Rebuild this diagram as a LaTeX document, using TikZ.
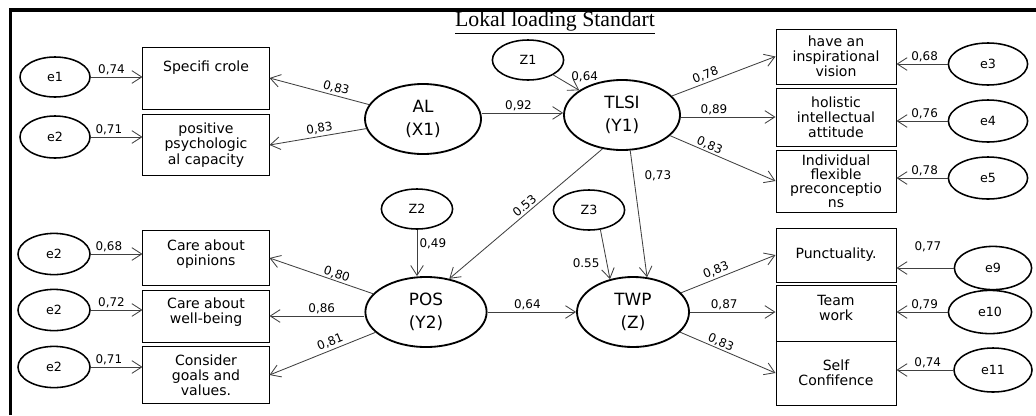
\documentclass[tikz,border=0pt]{standalone}
\usepackage{fontspec}
\setmainfont{DejaVu Sans}
\newfontfamily\titlefont{Liberation Serif}
\usepackage{tikz}
\usetikzlibrary{positioning,shapes.geometric,arrows.meta}

\begin{document}
\begin{tikzpicture}[x=0.025cm, y=-0.025cm,
  lat/.style={ellipse, draw, line width=1.3pt, inner sep=0pt, minimum width=2.9cm, minimum height=1.75cm, align=center, font=\fontsize{12}{16}\selectfont},
  err/.style={ellipse, draw, line width=1.1pt, inner sep=0pt, minimum width=1.75cm, minimum height=1cm, font=\fontsize{9}{11}\selectfont},
  ind/.style={rectangle, draw, line width=0.7pt, inner sep=1pt, minimum width=3cm, align=center, font=\fontsize{10}{10.8}\selectfont},
  arr/.style={draw=black!75, line width=0.6pt, -{Straight Barb[length=7pt,width=9pt]}},
  coef/.style={font=\fontsize{8.5}{10}\selectfont, inner sep=1.5pt}]
\useasboundingbox (0,0) rectangle (1036,415);
\draw[line width=2.8pt] (10.5,415) -- (10.5,10) -- (1036,10);
\node (title) at (555,23) {\titlefont\fontsize{15.5}{18}\selectfont\underline{Lokal loading Standart}};

% latent variables
\node[lat] (al) at (423,119) {AL\\(X1)};
\node[lat] (tlsi) at (622,115) {TLSI\\(Y1)};
\node[lat, minimum width=3.03cm] (pos) at (426,312) {POS\\(Y2)};
\node[lat, minimum width=2.8cm] (twp) at (633,312) {TWP\\(Z)};
\node[err, minimum width=1.78cm] (z1) at (528,60) {Z1};
\node[err, minimum width=1.78cm] (z2) at (417,209) {Z2};
\node[err, minimum width=1.78cm] (z3) at (589,210) {Z3};

% indicators AL
\node[ind, minimum width=3.15cm, minimum height=1.55cm] (sr) at (206,78) {Specifi crole\\[6pt]~};
\node[ind, minimum width=3.15cm, minimum height=1.52cm] (ppc) at (206,145) {positive\\psychologic\\al capacity};
\node[err] (e1) at (55,77) {e1};
\node[err, minimum height=1.05cm] (e2) at (55,137) {e2};

% indicators TLSI
\node[ind, minimum height=1.375cm] (hiv) at (836,56.5) {have an\\inspirational\\vision};
\node[ind, minimum height=1.45cm] (hia) at (836,117) {holistic\\intellectual\\attitude};
\node[ind, minimum height=1.55cm, font=\fontsize{10}{10}\selectfont] (ifp) at (836,181) {Individual\\flexible\\preconceptio\\ns};
\node[err, minimum width=1.98cm, minimum height=1.05cm] (e3) at (988,64) {e3};
\node[err, minimum width=1.98cm, minimum height=1.05cm] (e4) at (988,121) {e4};
\node[err, minimum width=1.98cm, minimum height=1.05cm] (e5) at (988,178) {e5};

% indicators POS
\node[ind, minimum width=3.15cm, minimum height=1.375cm] (co) at (206,258) {Care about\\opinions\\[-3pt]~};
\node[ind, minimum width=3.15cm, minimum height=1.3cm] (cw) at (206,316) {Care about\\well-being\\[-3pt]~};
\node[ind, minimum width=3.15cm, minimum height=1.425cm] (cg) at (206,375) {Consider\\goals and\\values.};
\node[err, minimum width=1.8cm, minimum height=1.03cm] (e2x) at (54,254) {e2};
\node[err, minimum width=1.8cm, minimum height=1.03cm] (e2y) at (54,310) {e2};
\node[err, minimum width=1.8cm, minimum height=1.03cm] (e2z) at (54,367) {e2};

% indicators TWP
\node[ind, minimum height=1.35cm] (pu) at (836,255) {Punctuality.};
\node[ind, minimum height=1.4cm] (tw) at (836,313) {Team\\work\\[-3pt]~};
\node[ind, minimum height=1.6cm] (sc) at (836,373) {Self\\Confifence};
\node[err, minimum width=1.93cm, minimum height=1.08cm] (e9) at (993,268) {e9};
\node[err, minimum width=2.08cm, minimum height=1.08cm] (e10) at (990,312) {e10};
\node[err, minimum width=1.95cm, minimum height=1.1cm] (e11) at (993,370) {e11};

% paths
\draw[arr] (e1.east) -- (e1.east -| sr.west) node[coef, pos=0.4, above] {0,74};
\draw[arr] (e2.east) -- (e2.east -| ppc.west) node[coef, pos=0.35, above] {0,71};
\draw[arr] (al) -- (sr.east) node[coef, pos=0.35, above, sloped] {0,83};
\draw[arr] (al) -- (ppc.east) node[coef, pos=0.47, above, sloped] {0,83};
\draw[arr] (al.east |- tlsi.178) -- (tlsi.178) node[coef, pos=0.45, above] {0,92};
\draw[arr] (z1) -- (tlsi.150) node[coef, pos=0.6, above right] {0,64};

\draw[arr] (tlsi) -- (hiv.west) node[coef, pos=0.35, above, sloped] {0,78};
\draw[arr] (hia.west -| tlsi.east) -- (hia.west) node[coef, pos=0.35, above] {0,89};
\draw[arr] (tlsi) -- (ifp.west) node[coef, pos=0.35, above, sloped, inner sep=0.5pt] {0,83};
\draw[arr] (e3.west) -- (e3.west -| hiv.east) node[coef, pos=0.45, above] {0,68};
\draw[arr] (e4.west) -- (e4.west -| hia.east) node[coef, pos=0.45, above] {0,76};
\draw[arr] (e5.west) -- (e5.west -| ifp.east) node[coef, pos=0.45, above] {0,78};

\draw[arr] (z2.south) -- (z2.south |- pos.north) node[coef, pos=0.3, right] {0,49};
\draw[arr] (tlsi.240) -- (pos.55) node[coef, pos=0.48, above, sloped] {0.53};
\draw[arr] (z3.300) -- (twp.125) node[coef, pos=0.67, left=3.5pt] {0.55};
\draw[arr] (tlsi.283) -- (twp.68) node[coef, pos=0.2, right=6pt] {0,73};
\draw[arr] (pos.east) -- (twp.west) node[coef, pos=0.45, above] {0,64};

\draw[arr] (pos) -- (co.east) node[coef, pos=0.37, above, sloped, inner sep=0.5pt] {0,80};
\draw[arr] (cw.east -| pos.west) -- (cw.east) node[coef, pos=0.45, above] {0,86};
\draw[arr] (pos) -- (cg.east) node[coef, pos=0.4, above, sloped] {0,81};
\draw[arr] (e2x.east) -- (e2x.east -| co.west) node[coef, pos=0.35, above] {0,68};
\draw[arr] (e2y.east) -- (e2y.east -| cw.west) node[coef, pos=0.4, above] {0,72};
\draw[arr] (e2z.east) -- (e2z.east -| cg.west) node[coef, pos=0.35, above] {0,71};

\draw[arr] (twp) -- (pu.west) node[coef, pos=0.4, above, sloped] {0,83};
\draw[arr] (twp.east) -- (twp.east -| tw.west) node[coef, pos=0.4, above] {0,87};
\draw[arr] (twp) -- (sc.west) node[coef, pos=0.4, above, sloped, inner sep=0.5pt] {0,83};
\draw[arr] (e9.west) -- (e9.west -| pu.east) node[coef, pos=0.45, above=10pt] {0,77};
\draw[arr] (e10.west) -- (e10.west -| tw.east) node[coef, pos=0.45, above] {0,79};
\draw[arr] (e11.west) -- (e11.west -| sc.east) node[coef, pos=0.45, above] {0,74};
\end{tikzpicture}
\end{document}
